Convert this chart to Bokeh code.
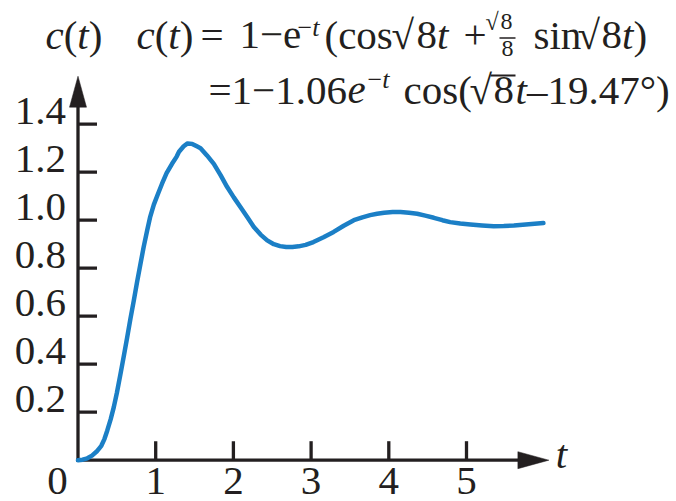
from bokeh.plotting import figure
from bokeh.models import Range1d, Label
from bokeh.embed import file_html
from bokeh.resources import INLINE
from bokeh.core.properties import value

# Unit step response c(t), sampled along the curve
t_vals = [0.00, 0.06, 0.12, 0.18, 0.24, 0.30, 0.34, 0.376, 0.42, 0.46,
          0.50, 0.547, 0.59, 0.633, 0.675, 0.718, 0.76, 0.804, 0.846, 0.89,
          0.93, 0.976, 1.03, 1.08, 1.14, 1.21, 1.27, 1.30, 1.36, 1.41,
          1.47, 1.53, 1.577, 1.66, 1.748, 1.835, 1.92, 2.005, 2.09, 2.18,
          2.263, 2.35, 2.435, 2.52, 2.60, 2.68, 2.76, 2.84, 2.93, 3.03,
          3.16, 3.29, 3.42, 3.55, 3.66, 3.76, 3.85, 3.94, 4.05, 4.15,
          4.26, 4.365, 4.47, 4.58, 4.69, 4.79, 4.92, 5.05, 5.20, 5.35,
          5.48, 5.61, 5.80, 5.99]
c_vals = [0.000, 0.002, 0.008, 0.019, 0.036, 0.060, 0.088, 0.123, 0.170, 0.220,
          0.280, 0.360, 0.435, 0.512, 0.590, 0.665, 0.742, 0.818, 0.890, 0.957,
          1.015, 1.065, 1.110, 1.151, 1.196, 1.235, 1.265, 1.285, 1.308, 1.320,
          1.318, 1.308, 1.300, 1.270, 1.235, 1.188, 1.138, 1.095, 1.055, 1.012,
          0.972, 0.940, 0.916, 0.900, 0.892, 0.888, 0.888, 0.891, 0.897, 0.909,
          0.929, 0.951, 0.977, 1.000, 1.012, 1.021, 1.027, 1.031, 1.034, 1.034,
          1.031, 1.027, 1.019, 1.010, 1.000, 0.992, 0.986, 0.982, 0.978, 0.975,
          0.976, 0.978, 0.983, 0.988]

y_ticks = [0.2, 0.4, 0.6, 0.8, 1.0, 1.2, 1.4]
y_tick_labels = ["0.2", "0.4", "0.6", "0.8", "1.0", "1.2", "1.4"]
x_ticks = [1, 2, 3, 4, 5]
x_tick_labels = ["1", "2", "3", "4", "5"]
origin_label = "0"
x_axis_end = 6.06   # tip of the t-axis arrow
y_axis_end = 1.60   # tip of the c-axis arrow

W, H = 676, 501
PX_T = 77.7          # pixels per unit of t
PX_C = 240.0         # pixels per unit of c
T0_PX, C0_PX = 77.5, 459.7   # pixel position of the origin
LIFT_EM = 0.415      # baseline correction for text placement, in em

INK = "#231f20"
BLUE = "#1b7fc6"
FONT = value("Liberation Serif")
FONT_NAME = "Liberation Serif"
TICK_SIZE = 41


def X(px):
    return (px - T0_PX) / PX_T


def Y(py):
    return (C0_PX - py) / PX_C


def dx(n):
    return n / PX_T


def dy(n):
    return n / PX_C


p = figure(width=W, height=H, output_backend="svg", toolbar_location=None,
           x_range=Range1d(X(0), X(W)), y_range=Range1d(Y(H), Y(0)),
           min_border=0, outline_line_color=None)
p.axis.visible = False
p.grid.visible = False
p.background_fill_color = "white"
p.border_fill_color = "white"

# axes with arrowheads
AW = 3.3
p.segment(x0=[0, -dx(AW / 2)], y0=[-dy(AW / 2), 0],
          x1=[0, x_axis_end - dx(20)], y1=[y_axis_end - dy(20), 0],
          line_color=INK, line_width=AW)
head_len, head_half = 31, 8.5
p.patch(x=[x_axis_end, x_axis_end - dx(head_len), x_axis_end - dx(head_len)],
        y=[0, dy(head_half), -dy(head_half)], color=INK, line_width=0.5)
p.patch(x=[0, -dx(head_half), dx(head_half)],
        y=[y_axis_end, y_axis_end - dy(head_len), y_axis_end - dy(head_len)],
        color=INK, line_width=0.5)

# inward ticks
TL = 19
p.segment(x0=[0] * len(y_ticks), y0=y_ticks, x1=[dx(TL)] * len(y_ticks), y1=y_ticks,
          line_color=INK, line_width=AW)
p.segment(x0=x_ticks, y0=[0] * len(x_ticks), x1=x_ticks, y1=[dy(TL)] * len(x_ticks),
          line_color=INK, line_width=AW)

# tick labels
lift = LIFT_EM * TICK_SIZE
fs = f"{TICK_SIZE}px"
p.text(x=[0] * len(y_ticks), y=y_ticks, text=y_tick_labels, text_font=FONT,
       text_font_size=fs, text_color=INK, text_align="right",
       text_baseline="alphabetic", x_offset=-12, y_offset=4 - lift)
p.text(x=x_ticks, y=[0] * len(x_ticks), text=x_tick_labels, text_font=FONT,
       text_font_size=fs, text_color=INK, text_align="center",
       text_baseline="alphabetic", y_offset=38 - lift)
p.text(x=[0], y=[0], text=[origin_label], text_font=FONT, text_font_size=fs,
       text_color=INK, text_align="center", text_baseline="alphabetic",
       x_offset=-20.5, y_offset=38 - lift)
p.text(x=[x_axis_end], y=[0], text=["t"], text_font=FONT, text_font_style="italic",
       text_font_size=fs, text_color=INK, text_align="left",
       text_baseline="alphabetic", x_offset=7, y_offset=11 - lift)

# response curve
p.line(t_vals, c_vals, line_color=BLUE, line_width=4.5, line_join="round",
       line_cap="round")

# formula, typeset piece by piece
ADV = {' ': 250, '(': 333, ')': 333, '+': 564, '\u2212': 564, '=': 564, '.': 250,
       '\u2013': 500, '\u00b0': 400, '\u221a': 549, 'c': 444, 'o': 500, 's': 389,
       'i': 278, 'n': 500, 'e': 444, 't': 278}


def adv(s, size):
    return sum(ADV.get(ch, 500) for ch in s) * size / 1000.0


def put(x_px, base_px, parts):
    for txt, style, size, rise in parts:
        p.add_layout(Label(x=X(x_px), y=Y(base_px - rise - LIFT_EM * size), text=txt,
                           text_font=FONT_NAME, text_font_style=style,
                           text_font_size=f"{size}px", text_color=INK,
                           text_baseline="alphabetic", text_align="left"))
        x_px += adv(txt, size)
    return x_px


R, I = "normal", "italic"
F, S = 41, 26
ct = [("c", I, F, 0), ("(", R, F, 0), ("t", I, F, 0), (")", R, F, 0)]

B1 = 52
put(45, B1, ct)
put(136, B1, ct)
put(200, B1, [("=", R, F, 0)])
put(239, B1, [("1\u2212e", R, F, 0)])
put(297, B1, [("\u2212", R, S, 14), ("t", I, S, 14)])
put(324, B1, [("(cos", R, F, 0)])
put(391, B1, [("\u221a", R, F, 0)])
put(416, B1, [("8", R, F, 0), ("t", I, F, 0)])
put(463, B1, [("+", R, F, 0)])
put(485, 31, [("\u221a", R, 24, 0)])
put(500, 31, [("8", R, 24, 0)])
put(501, 58, [("8", R, 24, 0)])
p.segment(x0=[X(499)], y0=[Y(37.5)], x1=[X(515)], y1=[Y(37.5)],
          line_color=INK, line_width=1.6)
put(533, B1, [("sin", R, F, 0)])
put(577, B1, [("\u221a", R, F, 0)])
put(601, B1, [("8", R, F, 0), ("t", I, F, 0), (")", R, F, 0)])

B2 = 107
put(208, B2, [("=1\u22121.06", R, F, 0)])
put(347, B2, [("e", I, F, 0)])
put(367, B2, [("\u2212", R, S, 17), ("t", I, S, 17)])
put(403, B2, [("cos(", R, F, 0)])
put(469, B2, [("\u221a", R, F, 0)])
put(493, B2, [("8", R, F, 0)])
p.segment(x0=[X(490)], y0=[Y(B2 - 32)], x1=[X(515)], y1=[Y(B2 - 32)],
          line_color=INK, line_width=1.8)
put(515, B2, [("t", I, F, 0), ("\u201319.47\u00b0)", R, F, 0)])

open("out.html", "w").write(file_html(p, INLINE))
